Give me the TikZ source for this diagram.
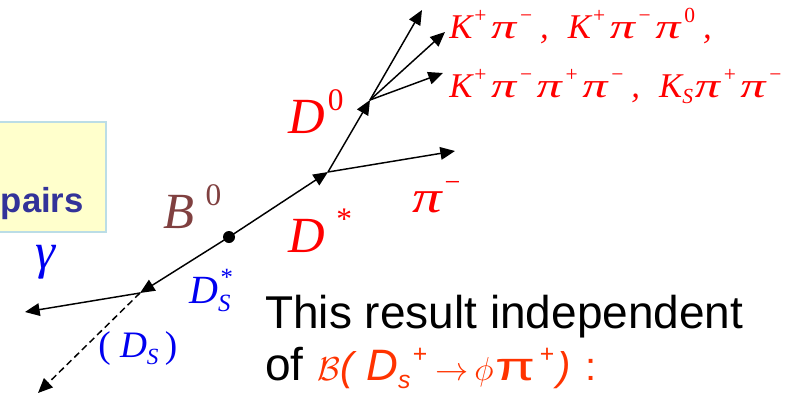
\documentclass[tikz,border=0pt]{standalone}
\usepackage{fontspec}
\setmainfont{Liberation Serif}
\setsansfont{Liberation Sans}
\usetikzlibrary{arrows.meta,positioning}
\definecolor{Ink}{HTML}{000000}
\definecolor{Rd}{HTML}{FF0000}
\definecolor{Orn}{HTML}{FF3300}
\definecolor{Blu}{HTML}{0000F0}
\definecolor{Brn}{HTML}{804040}
\definecolor{Indigo}{HTML}{333399}
\definecolor{Lemon}{HTML}{FFFFCC}
\definecolor{Frame}{HTML}{BBDDE6}
\newcommand{\hi}[1]{\kern.06em\raisebox{.45em}{\scalebox{.62}{\upshape#1}}\kern.08em}
\newcommand{\lo}[1]{\raisebox{-.2em}{\scalebox{.62}{\itshape#1}}}
\newcommand{\ppi}{\kern.05em\scalebox{1.45}[1]{π}\kern.05em}
\tikzset{
  >={Triangle[length=11pt,width=9.5pt]},
  trk/.style={->,line width=1.1pt,draw=Ink},
  neu/.style={trk,dash pattern=on 5pt off 3pt},
  vtx/.style={circle,fill=Ink,inner sep=0pt,minimum size=9pt},
  lbl/.style={anchor=base west,inner sep=0pt},
  big/.style={lbl,font=\fontsize{38}{40}\selectfont\itshape},
  fs/.style={lbl,font=\fontsize{26}{28}\selectfont\itshape,text=Rd},
  txt/.style={lbl,font=\fontsize{34.5}{36}\selectfont\sffamily}
}
\begin{document}
\begin{tikzpicture}[x=0.75pt,y=-0.75pt]
  \useasboundingbox (0,0) rectangle (793,400);
  % yellow box, cut by the left edge
  \draw[fill=Lemon,draw=Frame,line width=1.5pt] (-20,122) rectangle (106,232);
  \node[lbl,anchor=base east,font=\fontsize{26}{28}\selectfont\sffamily\bfseries,text=Indigo] (pairs) at (84,212) {pairs};
  % vertices
  \node[vtx] (bvx) at (229,237) {};
  \coordinate (dstar) at (328,172);
  \coordinate (dzero) at (370,100);
  \coordinate (dsstar) at (140,293);
  \coordinate (k1) at (422,10);
  \coordinate (k2) at (445,32);
  \coordinate (k3) at (443,73);
  \coordinate (pim) at (455,151);
  \coordinate (gam) at (25,312);
  \coordinate (ds) at (38,393);
  % tracks
  \draw[trk] (bvx.center)--(dstar);
  \draw[trk] (dstar)--(dzero);
  \draw[trk] (dstar)--(pim);
  \draw[trk] (dzero)--(k1);
  \draw[trk] (dzero)--(k2);
  \draw[trk] (dzero)--(k3);
  \draw[trk] (bvx.center)--(dsstar);
  \draw[trk] (dsstar)--(gam);
  \draw[neu] (dsstar)--(ds);
  % particle labels
  \node[big,text=Brn] (b0) at (163,228) {B\,\hi{0}};
  \node[big,text=Rd] (d0) at (288,133) {D\hi{0}};
  \node[big,text=Rd] (dst) at (288,252) {D\,\hi{*}};
  \node[lbl,font=\fontsize{34}{36}\selectfont\itshape,text=Rd] (pil) at (412,212) {\scalebox{1.3}[1]{π}\hi{−}};
  \node[lbl,font=\fontsize{38}{40}\selectfont\itshape,text=Blu] (gl) at (35,268) {γ};
  \node[lbl,font=\fontsize{30}{32}\selectfont\itshape,text=Blu] (dsl) at (189,303) {D\rlap{\lo{S}}\hi{*}};
  \node[lbl,font=\fontsize{28}{30}\selectfont\itshape,text=Blu] (dsp) at (98,357) {\upshape( \itshape D\lo{S}\upshape\,)};
  \node[fs] (kl1) at (449,38) {K\hi{+}\ppi\hi{−}\kern.15em,\hspace{.55em}K\hi{+}\ppi\hi{−}\ppi\hi{0}\kern.15em,};
  \node[fs] (kl2) at (449,97) {K\hi{+}\ppi\hi{−}\ppi\hi{+}\ppi\hi{−}\kern.15em,\hspace{.55em}K\lo{S}\ppi\hi{+}\ppi\hi{−}};
  % remark
  \node[txt] (rem1) at (265,328) {This result independent};
  \node[txt] (rem2) at (265,380) {of\hspace{.3em}{\color{Orn}\fontsize{30}{32}\selectfont{\fontsize{34}{36}\selectfont$\mathcal{B}$}\textit{(}\hspace{7pt}{\fontsize{33}{36}\selectfont\sffamily\itshape D}\lo{s}\hi{+}\hspace{4pt}$\rightarrow$\hspace{4pt}{\fontsize{33}{36}\selectfont$\phi$}\ppi\hi{+}\textit{)}\hspace{11pt}{\sffamily\upshape :}}};
\end{tikzpicture}
\end{document}
